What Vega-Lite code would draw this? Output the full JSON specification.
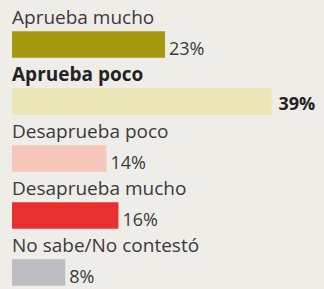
{
  "$schema": "https://vega.github.io/schema/vega-lite/v6.json",
  "width": 324,
  "height": 289,
  "padding": 0,
  "autosize": "none",
  "background": "#efede8",
  "config": {"view": {"stroke": null}},
  "data": {
    "values": [
      {"cat": "Aprueba mucho", "value": 23, "label": "23%"},
      {"cat": "Aprueba poco", "value": 39, "label": "39%"},
      {"cat": "Desaprueba poco", "value": 14.2, "label": "14%"},
      {"cat": "Desaprueba mucho", "value": 16, "label": "16%"},
      {"cat": "No sabe/No contestó", "value": 8, "label": "8%"}
    ]
  },
  "encoding": {
    "y": {
      "field": "cat",
      "type": "nominal",
      "sort": null,
      "scale": {"type": "band", "range": [0, 285], "paddingInner": 0, "paddingOuter": 0},
      "axis": null
    }
  },
  "layer": [
    {
      "mark": {"type": "bar", "height": 26.5, "yOffset": 16},
      "encoding": {
        "x": {"field": "value", "type": "quantitative", "scale": {"domain": [0, 46.9], "nice": false, "range": [12, 324]}, "axis": null},
        "color": {
          "field": "cat",
          "type": "nominal",
          "scale": {
            "domain": ["Aprueba mucho", "Aprueba poco", "Desaprueba poco", "Desaprueba mucho", "No sabe/No contestó"],
            "range": ["#a69a10", "#ece5b5", "#f5c7bb", "#e8302f", "#bdbcc0"]
          },
          "legend": null
        }
      }
    },
    {
      "transform": [{"filter": "datum.cat !== 'Aprueba poco'"}],
      "mark": {"type": "text", "align": "left", "baseline": "alphabetic", "yOffset": -4.5, "font": "Open Sans", "fontSize": 19, "color": "#3a3a3a", "letterSpacing": -0.3},
      "encoding": {"x": {"datum": 0}, "text": {"field": "cat"}}
    },
    {
      "transform": [{"filter": "datum.cat === 'Aprueba poco'"}],
      "mark": {"type": "text", "align": "left", "baseline": "alphabetic", "yOffset": -4.5, "font": "Open Sans", "fontSize": 19, "fontWeight": "bold", "color": "#222222", "letterSpacing": -0.8},
      "encoding": {"x": {"datum": 0}, "text": {"field": "cat"}}
    },
    {
      "transform": [{"filter": "datum.cat !== 'Aprueba poco'"}],
      "mark": {"type": "text", "align": "left", "baseline": "alphabetic", "dx": 4, "yOffset": 26, "font": "Open Sans", "fontSize": 18, "color": "#3a3a3a", "letterSpacing": -0.5},
      "encoding": {"x": {"field": "value", "type": "quantitative"}, "text": {"field": "label"}}
    },
    {
      "transform": [{"filter": "datum.cat === 'Aprueba poco'"}],
      "mark": {"type": "text", "align": "left", "baseline": "alphabetic", "dx": 7, "yOffset": 24.5, "font": "Open Sans", "fontSize": 18, "fontWeight": "bold", "color": "#222222", "letterSpacing": -0.5},
      "encoding": {"x": {"field": "value", "type": "quantitative"}, "text": {"field": "label"}}
    }
  ]
}
